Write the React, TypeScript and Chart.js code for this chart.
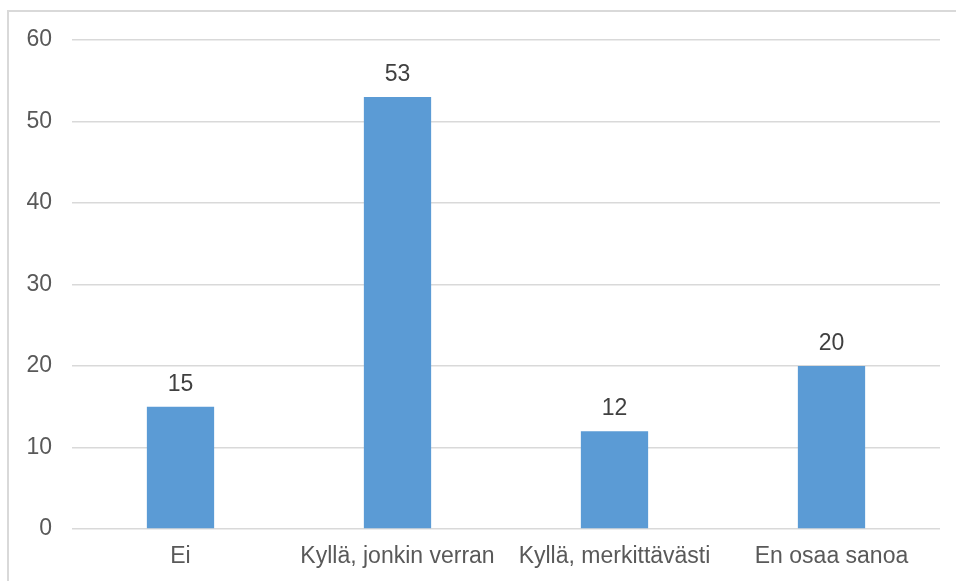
import React, { useEffect, useRef } from "react";
import { Chart, registerables } from "chart.js";

Chart.register(...registerables);

const categories = ["Ei", "Kyllä, jonkin verran", "Kyllä, merkittävästi", "En osaa sanoa"];
const values = [15, 53, 12, 20];
const yTicks = [0, 10, 20, 30, 40, 50, 60];

const FONT = "'Liberation Sans', Arial, sans-serif";

const valueLabels = {
  id: "valueLabels",
  afterDatasetsDraw(chart: any) {
    const ctx = chart.ctx;
    const meta = chart.getDatasetMeta(0);
    ctx.save();
    ctx.font = `23px ${FONT}`;
    ctx.fillStyle = "#404040";
    ctx.textAlign = "center";
    ctx.textBaseline = "alphabetic";
    meta.data.forEach((bar: any, i: number) => {
      ctx.fillText(String(values[i]), bar.x, bar.y - 16);
    });
    ctx.restore();
  },
};

export default function App() {
  const ref = useRef<HTMLCanvasElement>(null);
  useEffect(() => {
    const chart = new Chart(ref.current!, {
      type: "bar",
      data: {
        labels: categories,
        datasets: [
          {
            data: values,
            backgroundColor: "#5B9BD5",
            categoryPercentage: 1,
            barPercentage: 0.31,
          },
        ],
      },
      options: {
        animation: false,
        responsive: false,
        maintainAspectRatio: false,
        layout: { padding: { top: 40, right: 16, bottom: 0, left: 0 } },
        plugins: { legend: { display: false }, tooltip: { enabled: false } },
        scales: {
          x: {
            grid: { display: false, drawTicks: false },
            border: { display: false },
            ticks: { color: "#595959", font: { family: FONT, size: 23 }, padding: 14, maxRotation: 0, autoSkip: false },
            afterFit: (s: any) => { s.height = 52; },
          },
          y: {
            min: 0,
            max: 60,
            afterBuildTicks: (s: any) => { s.ticks = yTicks.map((v) => ({ value: v })); },
            grid: { color: "#d9d9d9", lineWidth: 1.5, drawTicks: false },
            border: { display: false },
            ticks: { color: "#595959", font: { family: FONT, size: 23 }, padding: 20 },
            afterFit: (s: any) => { s.width = 72; },
          },
        },
      },
      plugins: [valueLabels],
    });
    return () => chart.destroy();
  }, []);
  return (
    <div style={{ position: "fixed", left: 0, top: 0, width: 956, height: 581, overflow: "hidden", background: "#fff" }}>
      <div style={{ position: "absolute", left: 7, top: 10, width: 1000, height: 1000, border: "2px solid #d9d9d9" }} />
      <canvas ref={ref} width={956} height={581} style={{ position: "absolute", left: 0, top: 0 }} />
    </div>
  );
}
